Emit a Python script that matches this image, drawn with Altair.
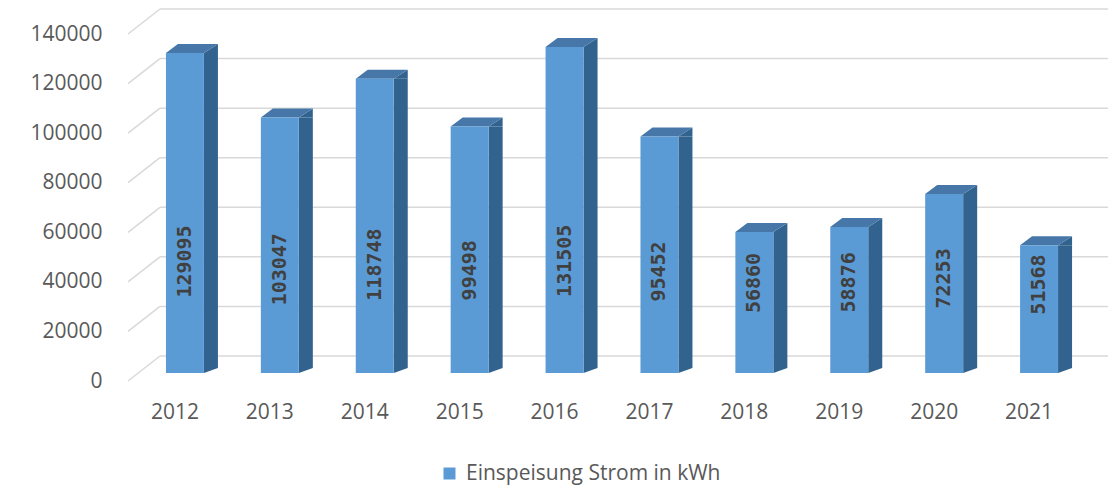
import altair as alt
import pandas as pd

# ---- data ----
years = ["2012", "2013", "2014", "2015", "2016", "2017", "2018", "2019", "2020", "2021"]
values = [129095, 103047, 118748, 99498, 131505, 95452, 56860, 58876, 72253, 51568]
y_ticks = [0, 20000, 40000, 60000, 80000, 100000, 120000, 140000]
series_name = "Einspeisung Strom in kWh"

df = pd.DataFrame({"year": years, "value": values, "series": [series_name] * len(years)})
grid_df = pd.DataFrame({"tick": y_ticks})

FRONT = "#5b9bd5"
SIDE = "#31638e"
TOP = "#4677a8"
GRID = "#d9d9d9"
TXT = "#595959"
FONT = "Open Sans"

x_scale = alt.Scale(domain=years, paddingInner=0.6, paddingOuter=0.4)
y_scale = alt.Scale(domain=[0, 140000], nice=False, zero=True)

x_ax = alt.Axis(title=None, labelAngle=0, domain=False, ticks=False, tickSize=0,
                grid=False, labelPadding=28, labelOffset=-10, labelFont=FONT,
                labelFontSize=21, labelColor=TXT)
y_ax = alt.Axis(values=y_ticks, format="d", title=None, domain=False, ticks=False,
                tickSize=0, grid=False, labelPadding=26, labelOffset=8,
                labelFont=FONT, labelFontSize=21, labelColor=TXT)

x_enc = alt.X("year:N", scale=x_scale, axis=x_ax)


def yq(field):
    return alt.Y(field, type="quantitative", scale=y_scale, axis=y_ax)


base = alt.Chart(df)
gbase = alt.Chart(grid_df)

# back wall gridlines
back_grid = gbase.mark_rule(color=GRID, strokeWidth=1.5, yOffset=-17).encode(
    y=yq("tick"),
    x=alt.value(32), x2=alt.value(981),
)
# side wall diagonals
diag_grid = gbase.mark_rule(color=GRID, strokeWidth=1.5, yOffset=8, y2Offset=-17).encode(
    y=yq("tick"),
    y2=alt.Y2("tick:Q"),
    x=alt.value(0), x2=alt.value(32),
)

# right side face of each column
side_rect = base.mark_bar(color=SIDE, width=14, xOffset=26, y2Offset=-5).encode(
    x=x_enc,
    y=yq("value"),
    y2=alt.datum(0),
)
side_top = base.mark_point(shape="M19,0L33,-9L33,0Z", size=4, filled=True,
                           fill=SIDE, opacity=1, strokeWidth=0).encode(
    x=x_enc, y=yq("value"),
)
side_bottom = base.mark_point(shape="M19,-5L33,-5L19,0Z", size=4, filled=True,
                              fill=SIDE, opacity=1, strokeWidth=0).encode(
    x=x_enc, y=alt.datum(0, type="quantitative", scale=y_scale, axis=y_ax),
)
# top face
top_face = base.mark_point(shape="M-19,0L19,0L33,-9L-7,-9Z", size=4, filled=True,
                           fill=TOP, opacity=1, strokeWidth=0).encode(
    x=x_enc, y=yq("value"),
)
# front face
front = base.mark_bar().encode(
    x=x_enc,
    y=yq("value"),
    color=alt.Color(
        "series:N",
        scale=alt.Scale(domain=[series_name], range=[FRONT]),
        legend=alt.Legend(orient="none", legendX=311, legendY=437, title=None,
                          symbolType="square", symbolSize=144, symbolStrokeWidth=0,
                          labelFont=FONT, labelFontSize=21, labelColor=TXT,
                          labelOffset=6, labelLimit=500),
    ),
)
# value labels
labels = base.transform_calculate(lp="29500 + 0.12 * datum.value").mark_text(
    angle=270, align="center", baseline="middle", font="DejaVu Sans Mono",
    fontWeight="bold", fontSize=20, color="#404040",
).encode(
    x=x_enc,
    y=yq("lp"),
    text=alt.Text("value:Q", format="d"),
)

chart = alt.layer(
    back_grid, diag_grid, side_rect, side_top, side_bottom, top_face, front, labels
).properties(
    width=968, height=347,
    padding={"left": 120, "top": 18, "right": 12, "bottom": 114},
    autosize=alt.AutoSizeParams(type="none"),
    background="white",
).configure_view(stroke=None)

chart.save("out.html", embed_options={"renderer": "svg", "actions": False})
